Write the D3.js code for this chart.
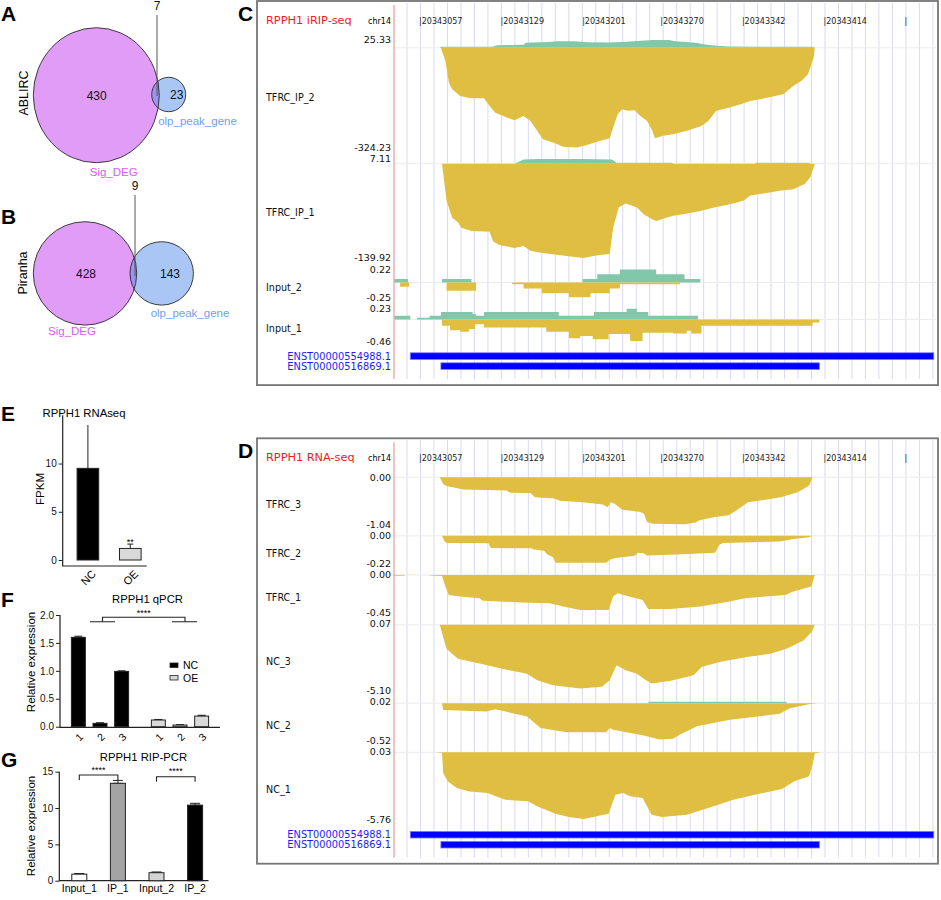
<!DOCTYPE html>
<html>
<head>
<meta charset="utf-8">
<script src="https://cdn.jsdelivr.net/npm/d3@7"></script>
<style>
  body { margin: 0; background: #fff; }
  svg { display: block; }
</style>
</head>
<body>
<svg id="fig" width="941" height="900"></svg>
<script>
const sans = 'Liberation Sans, Arial, sans-serif'
const trackFont = 'DejaVu Sans, Verdana, sans-serif'
const gold = '#e0be42'
const teal = '#80c8a9'

// ---- A / B : venn counts [only Sig_DEG, only olp_peak_gene, overlap]
const vennSets = ['Sig_DEG', 'olp_peak_gene']
const vennAblirc = [430, 23, 7]
const vennPiranha = [428, 143, 9]

// ---- C / D : genome browser, positions are bp offsets from chromStart
const chromName = 'chr14'
const chromStart = 20343000
const genomeTicks = [20343057, 20343129, 20343201, 20343270, 20343342, 20343414]
const transcripts = ['ENST00000554988.1', 'ENST00000516869.1']
const transcriptStart = [48, 75]
const transcriptEnd = [510, 409]

const ripTracks = ['TFRC_IP_2', 'TFRC_IP_1', 'Input_2', 'Input_1']
const ripMax = ['25.33', '7.11', '0.22', '0.23']
const ripMin = ['-324.23', '-139.92', '-0.25', '-0.46']

const ripIp2Pos = [[74, 0], [75, 3], [120, 3], [125, 8], [148, 10], [150, 16], [170, 19], [178, 21], [192, 21], [205, 18], [222, 17], [235, 19], [255, 24], [262, 25.3], [276, 25], [282, 21], [298, 17], [310, 10], [318, 7], [330, 4], [404, 3], [405, 0]]
const ripIp2Neg = [[75, 0], [79, -43], [82, -113], [85, -135], [92, -157], [101, -164], [113, -164], [117, -184], [123, -211], [130, -222], [140, -236], [148, -222], [154, -238], [160, -270], [165, -297], [174, -308], [183, -322], [195, -324], [204, -316], [215, -303], [224, -294], [227, -259], [231, -216], [235, -200], [240, -205], [246, -203], [251, -222], [257, -238], [261, -265], [264, -294], [271, -286], [280, -281], [292, -270], [305, -254], [311, -238], [318, -205], [329, -195], [339, -184], [348, -173], [364, -162], [377, -151], [386, -124], [393, -108], [399, -86], [404, -32], [405, 0]]
const ripIp1Pos = [[140, 0], [148, 6.5], [160, 7.1], [200, 7.1], [226, 6.5], [230, 1.5], [279, 1.5], [280, 0], [352, 0], [353, 1.5], [400, 1.5], [401, 0]]
const ripIp1Neg = [[76, 0], [80, -55], [85, -80], [90, -87], [93, -95], [102, -100], [118, -101], [121, -115], [127, -121], [140, -125], [148, -122], [154, -129], [163, -132], [177, -135], [186, -137], [201, -140], [213, -136], [224, -134], [227, -95], [232, -65], [238, -59], [240, -60], [248, -65], [254, -75], [261, -82], [265, -85], [274, -80], [280, -77], [289, -75], [304, -70], [316, -65], [330, -60], [342, -55], [348, -47], [360, -44], [374, -40], [386, -38], [396, -30], [401, -20], [405, 0]]
const ripIn2Pos = [[34, 0.06], [46, 0], [76, 0.06], [102, 0], [200, 0.06], [213, 0.14], [233, 0.22], [265, 0.14], [290, 0.06], [304, 0]]
const ripIn2Neg = [[39, -0.07], [47, 0], [80, -0.14], [106, 0], [138, -0.03], [148, -0.1], [164, -0.18], [188, -0.25], [207, -0.18], [224, -0.1], [233, -0.03], [286, 0]]
const ripIn1Pos = [[34, 0.08], [48, 0], [54, 0.04], [65, 0.08], [75, 0.16], [103, 0.12], [106, 0.08], [113, 0.16], [179, 0.08], [210, 0.16], [239, 0.23], [248, 0.16], [258, 0.08], [302, 0]]
const ripIn1Neg = [[76, -0.13], [83, -0.23], [92, -0.26], [100, -0.2], [105, -0.1], [113, -0.17], [168, -0.26], [188, -0.4], [198, -0.35], [209, -0.42], [223, -0.31], [242, -0.46], [253, -0.28], [280, -0.3], [292, -0.24], [296, -0.3], [305, -0.13], [403, -0.06], [409, 0]]

const rnaTracks = ['TFRC_3', 'TFRC_2', 'TFRC_1', 'NC_3', 'NC_2', 'NC_1']
const rnaMax = ['0.00', '0.00', '0.00', '0.07', '0.02', '0.03']
const rnaMin = ['-1.04', '-0.22', '-0.45', '-5.10', '-0.52', '-5.76']

const rnaTfrc3 = [[74, 0], [77, -0.15], [80, -0.19], [95, -0.27], [133, -0.29], [136, -0.34], [154, -0.35], [158, -0.44], [175, -0.47], [180, -0.52], [200, -0.55], [218, -0.6], [222, -0.66], [225, -0.55], [228, -0.58], [235, -0.72], [250, -0.76], [254, -0.8], [257, -0.99], [262, -1.03], [290, -1.04], [300, -1.0], [303, -0.95], [317, -0.88], [329, -0.84], [336, -0.73], [346, -0.55], [360, -0.5], [375, -0.44], [390, -0.33], [400, -0.18], [403, 0]]
const rnaTfrc2 = [[76, 0], [78, -0.04], [80, -0.058], [117, -0.06], [119, -0.097], [155, -0.1], [157, -0.11], [166, -0.12], [169, -0.15], [174, -0.17], [176, -0.215], [221, -0.215], [224, -0.19], [229, -0.176], [246, -0.16], [249, -0.136], [254, -0.14], [257, -0.157], [283, -0.149], [317, -0.136], [321, -0.07], [324, -0.058], [374, -0.045], [386, -0.026], [400, -0.012], [403, 0]]
const rnaTfrc1 = [[33, 0], [33, -0.01], [43, -0.01], [43, 0], [64, 0], [66, -0.008], [76, -0.012], [79, -0.14], [82, -0.24], [92, -0.26], [109, -0.28], [112, -0.31], [145, -0.33], [171, -0.34], [183, -0.38], [198, -0.42], [223, -0.42], [227, -0.26], [231, -0.22], [236, -0.24], [253, -0.3], [258, -0.41], [277, -0.41], [304, -0.38], [330, -0.32], [343, -0.28], [379, -0.24], [386, -0.2], [402, -0.14], [405, 0]]
const rnaNc3 = [[74, 0], [77, -0.96], [80, -1.87], [90, -2.64], [110, -3.03], [133, -3.5], [151, -3.81], [160, -4.32], [174, -4.71], [198, -4.97], [217, -4.84], [224, -4.32], [230, -3.16], [238, -3.55], [248, -3.81], [254, -4.2], [261, -4.58], [277, -4.38], [298, -3.94], [305, -3.29], [321, -2.9], [345, -2.52], [366, -2.26], [380, -1.87], [395, -1.22], [402, -0.58], [405, 0]]
const rnaNc2Pos = [[258, 0], [258, 0.02], [380, 0.02], [380, 0]]
const rnaNc2 = [[76, 0], [77, -0.094], [115, -0.117], [123, -0.085], [151, -0.186], [163, -0.346], [186, -0.405], [221, -0.405], [224, -0.346], [227, -0.369], [254, -0.451], [268, -0.506], [280, -0.497], [286, -0.437], [301, -0.323], [330, -0.232], [374, -0.149], [383, -0.071], [401, -0.012], [407, 0]]
const rnaNc1 = [[70, 0], [76, -0.06], [77, -1.77], [81, -2.48], [89, -3.05], [100, -3.34], [116, -3.48], [132, -4.05], [152, -4.19], [160, -4.62], [176, -5.25], [188, -5.53], [201, -5.7], [223, -5.25], [229, -3.62], [236, -3.48], [242, -3.76], [253, -3.91], [261, -5.33], [270, -5.53], [292, -5.33], [311, -4.76], [333, -4.05], [352, -3.62], [376, -3.14], [387, -2.48], [400, -2.05], [403, -1.06], [405, -0.1], [410, 0]]

// ---- E : RNA-seq FPKM
const rnaGroups = ['NC', 'OE']
const rnaFpkm = [9.5, 1.2]
const rnaFpkmErr = [4.5, 0.45]

// ---- F : qPCR
const qpcrGroups = ['NC', 'OE']
const qpcrReps = ['1', '2', '3']
const qpcrNC = [1.6, 0.06, 0.99]
const qpcrOE = [0.12, 0.03, 0.19]
const qpcrNCErr = [0.02, 0.01, 0.01]
const qpcrOEErr = [0.01, 0.006, 0.015]

// ---- G : RIP-PCR
const ripSamples = ['Input_1', 'IP_1', 'Input_2', 'IP_2']
const ripExpr = [0.9, 13.4, 1.1, 10.4]
const ripExprErr = [0.08, 0.4, 0.1, 0.25]

const svg = d3.select('#fig')
svg.append('rect').attr('width', 941).attr('height', 900).attr('fill', '#fff')

function panelLetter(letter, x, y) {
  svg.append('text')
    .attr('x', x)
    .attr('y', y)
    .attr('font-family', sans)
    .attr('font-weight', 700)
    .attr('font-size', '21px')
    .text(letter)
}

// ---------------- venn ----------------
function drawVenn(counts, o) {
  const g = svg.append('g').attr('class', 'venn')
  g.append('ellipse')
    .attr('cx', o.big.cx).attr('cy', o.big.cy)
    .attr('rx', o.big.rx).attr('ry', o.big.ry)
    .attr('fill', '#e09cf7')
  g.append('ellipse')
    .attr('cx', o.small.cx).attr('cy', o.small.cy)
    .attr('rx', o.small.rx).attr('ry', o.small.ry)
    .attr('fill', 'rgb(85,141,235)')
    .attr('fill-opacity', 0.5)
  ;[o.big, o.small].forEach(c => {
    g.append('ellipse')
      .attr('cx', c.cx).attr('cy', c.cy)
      .attr('rx', c.rx).attr('ry', c.ry)
      .attr('fill', 'none')
      .attr('stroke', '#2a2a2a')
      .attr('stroke-width', 0.9)
  })
  g.append('line')
    .attr('x1', o.overlap.x).attr('x2', o.overlap.x)
    .attr('y1', o.overlap.y + 5).attr('y2', o.overlap.lineEnd)
    .attr('stroke', '#555')
    .attr('stroke-width', 1)
  const labels = [
    { text: counts[0], x: o.big.labelX, y: o.big.cy },
    { text: counts[1], x: o.small.labelX, y: o.small.cy },
    { text: counts[2], x: o.overlap.x, y: o.overlap.y - 4 }
  ]
  g.selectAll('text.count')
    .data(labels)
    .enter()
    .append('text')
    .attr('class', 'count')
    .attr('x', d => d.x)
    .attr('y', d => d.y)
    .attr('dy', '0.36em')
    .attr('text-anchor', 'middle')
    .attr('font-family', sans)
    .attr('font-size', '12px')
    .attr('fill', '#111')
    .text(d => d.text)
  g.append('text')
    .attr('transform', `translate(${o.side.x}, ${o.side.y}) rotate(-90)`)
    .attr('text-anchor', 'middle')
    .attr('dy', '0.36em')
    .attr('font-family', sans)
    .attr('font-size', '12.5px')
    .text(o.side.text)
  g.append('text')
    .attr('x', o.setA.x).attr('y', o.setA.y)
    .attr('dy', '0.36em')
    .attr('text-anchor', 'middle')
    .attr('font-family', sans)
    .attr('font-size', '11.5px')
    .attr('fill', '#d95cf3')
    .text(vennSets[0])
  g.append('text')
    .attr('x', o.setB.x).attr('y', o.setB.y)
    .attr('dy', '0.36em')
    .attr('text-anchor', 'middle')
    .attr('font-family', sans)
    .attr('font-size', '11.5px')
    .attr('fill', '#6e9ff0')
    .text(vennSets[1])
}

panelLetter('A', 1, 21)
drawVenn(vennAblirc, {
  big: { cx: 96.3, cy: 95.2, rx: 63, ry: 67.5, labelX: 96.7 },
  small: { cx: 168.7, cy: 94.5, rx: 17, ry: 17.2, labelX: 176.7 },
  overlap: { x: 157, y: 10, lineEnd: 96 },
  side: { x: 23.5, y: 93, text: 'ABLIRC' },
  setA: { x: 113.7, y: 172 },
  setB: { x: 197.5, y: 120.5 }
})

panelLetter('B', 1, 224)
drawVenn(vennPiranha, {
  big: { cx: 85, cy: 273.4, rx: 51.7, ry: 51.7, labelX: 86 },
  small: { cx: 161.7, cy: 273.4, rx: 31.7, ry: 31.7, labelX: 170 },
  overlap: { x: 135, y: 190, lineEnd: 276 },
  side: { x: 22.5, y: 273, text: 'Piranha' },
  setA: { x: 72, y: 331 },
  setB: { x: 190, y: 313 }
})

// ---------------- genome browser ----------------
const x = d3.scaleLinear()
  .domain([genomeTicks[0], genomeTicks[genomeTicks.length - 1]])
  .range([420.5, 825])
const tickStep = (genomeTicks[genomeTicks.length - 1] - genomeTicks[0]) / (genomeTicks.length - 1)
const trackLeft = 394
const boxLeft = 257
const boxRight = 938
const trackGap = 11.5

function drawBrowser(cfg) {
  const g = svg.append('g').attr('class', 'browser')
  let y0 = cfg.top + 39
  const tracks = cfg.names.map((name, i) => {
    const t = { name, max: cfg.max[i], min: cfg.min[i], pos: cfg.pos[i], neg: cfg.neg[i], step: cfg.step[i], top: y0 }
    t.bottom = y0 + cfg.heights[i]
    y0 = t.bottom + trackGap
    return t
  })
  const lastBottom = tracks[tracks.length - 1].bottom
  const boxBottom = lastBottom + 44

  // grid lines every sixth of a ruler tick
  const gridBp = d3.range(genomeTicks[0] - tickStep / 6, x.invert(boxRight - 2), tickStep / 6)
  g.selectAll('line.grid')
    .data(gridBp)
    .enter()
    .append('line')
    .attr('class', 'grid')
    .attr('x1', d => x(d)).attr('x2', d => x(d))
    .attr('y1', cfg.top + 2).attr('y2', boxBottom - 6)
    .attr('stroke', '#d9d9f3')
    .attr('stroke-width', 1)

  // header
  const headY = cfg.top + 23
  g.append('text')
    .attr('x', 266).attr('y', headY)
    .attr('font-family', trackFont)
    .attr('font-size', '11.3px')
    .attr('fill', '#f01c1c')
    .text(cfg.title)
  g.append('text')
    .attr('x', 391).attr('y', headY)
    .attr('text-anchor', 'end')
    .attr('font-family', trackFont)
    .attr('font-size', '8px')
    .text(chromName)
  const rulerTicks = genomeTicks.concat([genomeTicks[genomeTicks.length - 1] + tickStep])
  g.selectAll('text.ruler')
    .data(rulerTicks)
    .enter()
    .append('text')
    .attr('class', 'ruler')
    .attr('x', d => x(d) - 1.5)
    .attr('y', headY)
    .attr('font-family', trackFont)
    .attr('font-size', '8px')
    .attr('fill', '#222')
    .text((d, i) => i < genomeTicks.length ? '|' + d : '|')

  tracks.forEach(t => {
    const y = d3.scaleLinear().domain([+t.min, +t.max]).range([t.bottom, t.top])
    g.append('line')
      .attr('x1', trackLeft).attr('x2', boxRight - 2)
      .attr('y1', y(0)).attr('y2', y(0))
      .attr('stroke', '#ebebeb')
    const area = d3.area()
      .curve(t.step ? d3.curveStepAfter : d3.curveLinear)
      .x(d => x(chromStart + d[0]))
      .y0(y(0))
      .y1(d => y(d[1]))
    if (t.pos) g.append('path').attr('d', area(t.pos)).attr('fill', teal)
    if (t.neg) g.append('path').attr('d', area(t.neg)).attr('fill', gold)
    ;[[t.max, t.top], [t.min, t.bottom]].forEach(([label, ly]) => {
      g.append('text')
        .attr('x', trackLeft - 3).attr('y', ly)
        .attr('dy', '0.36em')
        .attr('text-anchor', 'end')
        .attr('font-family', trackFont)
        .attr('font-size', '9.5px')
        .attr('fill', '#111')
        .text(label)
    })
    g.append('text')
      .attr('x', 266).attr('y', (t.top + t.bottom) / 2 + 4)
      .attr('dy', '0.36em')
      .attr('font-family', trackFont)
      .attr('font-size', '9.6px')
      .attr('fill', '#111')
      .text(t.name)
  })

  // transcripts
  transcripts.forEach((name, i) => {
    const ty = lastBottom + 15 + i * 10
    g.append('rect')
      .attr('x', x(chromStart + transcriptStart[i]))
      .attr('y', ty - 3.3)
      .attr('width', x(chromStart + transcriptEnd[i]) - x(chromStart + transcriptStart[i]))
      .attr('height', 6.6)
      .attr('fill', '#0000ff')
      .attr('stroke', '#7a7aff')
      .attr('stroke-width', 0.8)
    g.append('text')
      .attr('x', trackLeft - 3).attr('y', ty)
      .attr('dy', '0.36em')
      .attr('text-anchor', 'end')
      .attr('font-family', trackFont)
      .attr('font-size', '9.8px')
      .attr('fill', '#1c1cff')
      .text(name)
  })

  g.append('line')
    .attr('x1', trackLeft).attr('x2', trackLeft)
    .attr('y1', cfg.top + 4).attr('y2', boxBottom - 6)
    .attr('stroke', '#e79a9a')
    .attr('stroke-width', 1.2)

  g.append('rect')
    .attr('x', boxLeft).attr('y', cfg.top)
    .attr('width', boxRight - boxLeft)
    .attr('height', boxBottom - cfg.top)
    .attr('fill', 'none')
    .attr('stroke', '#767676')
    .attr('stroke-width', 1.8)
}

panelLetter('C', 238, 21)
drawBrowser({
  top: 1,
  title: 'RPPH1 iRIP-seq',
  names: ripTracks,
  max: ripMax,
  min: ripMin,
  pos: [ripIp2Pos, ripIp1Pos, ripIn2Pos, ripIn1Pos],
  neg: [ripIp2Neg, ripIp1Neg, ripIn2Neg, ripIn1Neg],
  step: [false, false, true, true],
  heights: [107.5, 99, 27.8, 32.3]
})

panelLetter('D', 238, 458)
drawBrowser({
  top: 438.3,
  title: 'RPPH1 RNA-seq',
  names: rnaTracks,
  max: rnaMax,
  min: rnaMin,
  pos: [null, null, null, null, rnaNc2Pos, null],
  neg: [rnaTfrc3, rnaTfrc2, rnaTfrc1, rnaNc3, rnaNc2, rnaNc1],
  step: [false, false, false, false, false, false],
  heights: [47, 27.6, 37.5, 66.3, 38.8, 67.7]
})

// ---------------- bar panels ----------------
function leftAxis(scale, ticks, xPos, fmt) {
  const g = svg.append('g')
    .attr('transform', `translate(${xPos}, 0)`)
    .call(d3.axisLeft(scale).tickValues(ticks).tickSize(4).tickPadding(2).tickFormat(fmt))
  g.select('.domain').remove()
  g.selectAll('line').attr('stroke', '#222')
  g.selectAll('text')
    .attr('font-family', sans)
    .attr('font-size', '10px')
    .attr('fill', '#111')
  return g
}

function vLabel(text, x, y) {
  svg.append('text')
    .attr('transform', `translate(${x}, ${y}) rotate(-90)`)
    .attr('text-anchor', 'middle')
    .attr('font-family', sans)
    .attr('font-size', '11.5px')
    .text(text)
}

function errorBar(cx, yTop, yBottom, capW) {
  const g = svg.append('g').attr('stroke', '#222').attr('stroke-width', 1)
  g.append('line').attr('x1', cx).attr('x2', cx).attr('y1', yTop).attr('y2', yBottom)
  g.append('line').attr('x1', cx - capW / 2).attr('x2', cx + capW / 2).attr('y1', yTop).attr('y2', yTop)
  g.append('line').attr('x1', cx - capW / 2).attr('x2', cx + capW / 2).attr('y1', yBottom).attr('y2', yBottom)
}

function title(text, x, y) {
  svg.append('text')
    .attr('x', x).attr('y', y)
    .attr('text-anchor', 'middle')
    .attr('font-family', sans)
    .attr('font-size', '11.3px')
    .text(text)
}

function stars(text, x, y) {
  svg.append('text')
    .attr('x', x).attr('y', y)
    .attr('text-anchor', 'middle')
    .attr('font-family', sans)
    .attr('font-size', '9px')
    .text(text)
}

// E
panelLetter('E', 1, 421)
title('RPPH1 RNAseq', 84, 417)
const ex = d3.scaleBand().domain(rnaGroups).range([66.7, 151.5]).paddingInner(0.49).paddingOuter(0.245)
const ey = d3.scaleLinear().domain([0, 15]).range([560, 415.3])
svg.append('path')
  .attr('d', `M62.7,${ey(15)}V566H146.7`)
  .attr('fill', 'none')
  .attr('stroke', '#222')
  .attr('stroke-width', 1.2)
leftAxis(ey, [0, 5, 10], 62.7, d3.format('d'))
vLabel('FPKM', 44, 489)
rnaGroups.forEach((grp, i) => {
  const cx = ex(grp) + ex.bandwidth() / 2
  errorBar(cx, ey(rnaFpkm[i] + rnaFpkmErr[i]), ey(rnaFpkm[i] - rnaFpkmErr[i]), i === 0 ? 0 : 6)
  svg.append('rect')
    .attr('x', ex(grp)).attr('y', ey(rnaFpkm[i]))
    .attr('width', ex.bandwidth()).attr('height', ey(0) - ey(rnaFpkm[i]))
    .attr('fill', i === 0 ? '#000' : '#d9d9d9')
    .attr('stroke', '#222')
    .attr('stroke-width', 1)
  svg.append('text')
    .attr('transform', `translate(${cx + 6}, 572) rotate(-45)`)
    .attr('text-anchor', 'end')
    .attr('dy', '0.35em')
    .attr('font-family', sans)
    .attr('font-size', '11px')
    .text(grp)
})
{
  const cx = ex('OE') + ex.bandwidth() / 2
  stars('**', cx, ey(rnaFpkm[1] + rnaFpkmErr[1]) + 0.5)
}

// F
panelLetter('F', 1, 607)
title('RPPH1 qPCR', 147.5, 603)
const fx0 = d3.scaleBand().domain(qpcrGroups).range([60, 220]).paddingInner(0.1875).paddingOuter(0.09375)
const fx1 = d3.scaleBand().domain(qpcrReps).range([0, fx0.bandwidth()]).paddingInner(0.355).paddingOuter(0.18)
const fy = d3.scaleLinear().domain([0, 2]).range([726.7, 615])
svg.append('path')
  .attr('d', `M60,${fy(2)}V727.3H220`)
  .attr('fill', 'none')
  .attr('stroke', '#222')
  .attr('stroke-width', 1.2)
leftAxis(fy, [0, 0.5, 1, 1.5, 2], 60, d3.format('.1f'))
vLabel('Relative expression', 35, 662)
const qpcrValues = [qpcrNC, qpcrOE]
const qpcrErrs = [qpcrNCErr, qpcrOEErr]
qpcrGroups.forEach((grp, gi) => {
  qpcrReps.forEach((rep, ri) => {
    const bx = fx0(grp) + fx1(rep)
    const cx = bx + fx1.bandwidth() / 2
    const v = qpcrValues[gi][ri]
    const e = qpcrErrs[gi][ri]
    errorBar(cx, fy(v + e), fy(v), 8)
    svg.append('rect')
      .attr('x', bx).attr('y', fy(v))
      .attr('width', fx1.bandwidth()).attr('height', fy(0) - fy(v))
      .attr('fill', gi === 0 ? '#000' : '#d9d9d9')
      .attr('stroke', '#222')
      .attr('stroke-width', 1)
    svg.append('text')
      .attr('transform', `translate(${cx + 3}, 735) rotate(-45)`)
      .attr('text-anchor', 'end')
      .attr('dy', '0.35em')
      .attr('font-family', sans)
      .attr('font-size', '10.5px')
      .text(rep)
  })
})
{
  const c0 = fx0('NC') + fx0.bandwidth() / 2 + 2.5
  const c1 = fx0('OE') + fx0.bandwidth() / 2 + 5
  const b = svg.append('g').attr('stroke', '#222').attr('stroke-width', 1.1).attr('fill', 'none')
  b.append('path').attr('d', `M${c0 - 12.5},621.7H${c0 + 12.5}M${c1 - 13},621.7H${c1 + 12}`)
  b.append('path').attr('d', `M${c0},621.7V617.3H${c1}V621.7`)
  stars('****', (c0 + c1) / 2, 615.5)
}
qpcrGroups.forEach((grp, i) => {
  svg.append('rect')
    .attr('x', 170).attr('y', 663 + i * 12.5)
    .attr('width', 8).attr('height', 4.5)
    .attr('fill', i === 0 ? '#000' : '#d9d9d9')
    .attr('stroke', '#222')
    .attr('stroke-width', 0.8)
  svg.append('text')
    .attr('x', 183).attr('y', 665.3 + i * 12.5)
    .attr('dy', '0.36em')
    .attr('font-family', sans)
    .attr('font-size', '10.5px')
    .text(grp)
})

// G
panelLetter('G', 1, 767)
title('RPPH1 RIP-PCR', 143.5, 761)
const gx = d3.scaleBand().domain(ripSamples).range([60, 214.4]).paddingInner(0.611).paddingOuter(0.3055)
const gy = d3.scaleLinear().domain([0, 15]).range([880.7, 771.7])
svg.append('path')
  .attr('d', `M59.3,${gy(15)}V880.7H208.5`)
  .attr('fill', 'none')
  .attr('stroke', '#222')
  .attr('stroke-width', 1.2)
leftAxis(gy, [0, 5, 10, 15], 59.3, d3.format('d'))
vLabel('Relative expression', 35, 826)
const ripFill = ['#fff', '#a4a4a4', '#d4d4d4', '#000']
ripSamples.forEach((s, i) => {
  const cx = gx(s) + gx.bandwidth() / 2
  errorBar(cx, gy(ripExpr[i] + ripExprErr[i]), gy(ripExpr[i]), 10)
  svg.append('rect')
    .attr('x', gx(s)).attr('y', gy(ripExpr[i]))
    .attr('width', gx.bandwidth()).attr('height', gy(0) - gy(ripExpr[i]))
    .attr('fill', ripFill[i])
    .attr('stroke', '#222')
    .attr('stroke-width', 1)
  svg.append('text')
    .attr('x', cx).attr('y', 892)
    .attr('text-anchor', 'middle')
    .attr('font-family', sans)
    .attr('font-size', '10.5px')
    .text(s)
})
;[[0, 1, 775], [2, 3, 776.7]].forEach(([a, b, by]) => {
  const xa = gx(ripSamples[a]) + gx.bandwidth() / 2
  const xb = gx(ripSamples[b]) + gx.bandwidth() / 2
  svg.append('path')
    .attr('d', `M${xa},${by + 5}V${by}H${xb}V${by + 5}`)
    .attr('fill', 'none')
    .attr('stroke', '#222')
    .attr('stroke-width', 1.1)
  stars('****', (xa + xb) / 2, by - 2.5)
})
</script>
</body>
</html>
